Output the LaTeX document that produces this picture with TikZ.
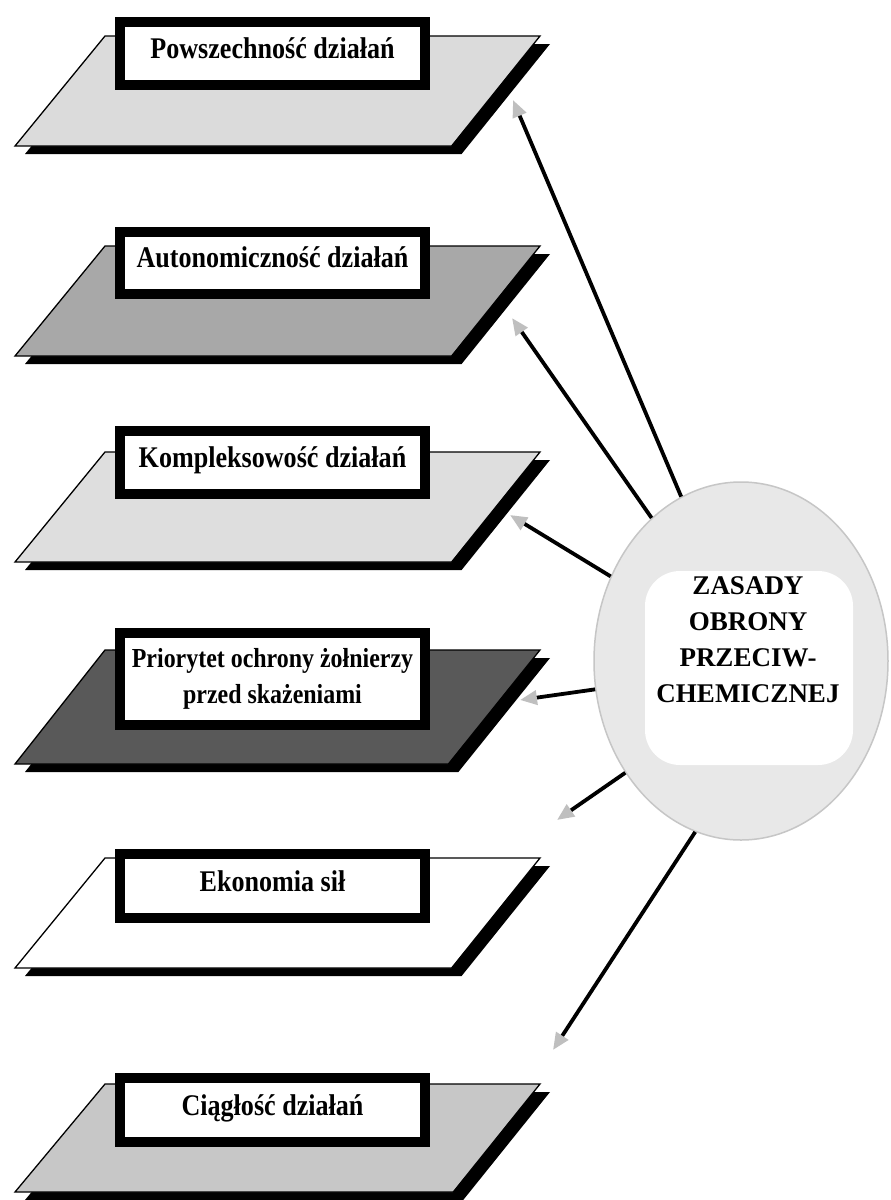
\documentclass[tikz,border=0pt]{standalone}
\usepackage{fontspec}
\setmainfont{Liberation Serif}
\newfontfamily\boxfont[FakeStretch=0.87]{Liberation Serif}
\usetikzlibrary{shapes.geometric,arrows.meta,calc}
\tikzset{
  platefill/.style={draw=black, line width=1.3pt},
  lbl/.style={draw=black, line width=10pt, fill=white, inner sep=0pt, anchor=north west,
    font=\boxfont\bfseries\fontsize{30}{34}\selectfont, minimum width=305pt},
  arr/.style={line width=3.8pt, -{Triangle[length=17pt,width=14pt,color=gray!50]}},
}
\newcommand\plate[3]{% top y, height, fill
  \fill[black] (115,{#1+8}) -- (550,{#1+8}) -- ({550-90*(#2)/112},{#1+#2+8}) -- ({25},{#1+#2+8}) -- cycle;
  \filldraw[platefill, fill=#3] (105,#1) -- (540,#1) -- ({540-90*(#2)/112},{#1+#2}) -- (15,{#1+#2}) -- cycle;
}
\begin{document}
\begin{tikzpicture}[x=1pt,y=-1pt]
\useasboundingbox (0,0) rectangle (891,1200);
\fill[white] (0,0) rectangle (891,1200);
\definecolor{pl1}{gray}{0.86}
\definecolor{pl2}{gray}{0.66}
\definecolor{pl3}{gray}{0.87}
\definecolor{pl4}{gray}{0.35}
\definecolor{pl6}{gray}{0.78}
% plates
\plate{36}{110}{pl1}
\plate{246}{110}{pl2}
\plate{452}{110}{pl3}
\plate{650}{114}{pl4}
\plate{858}{110}{white}
\plate{1084}{108}{pl6}
% labels
\node[lbl, minimum height=63pt, text height=36pt, text depth=27pt] (b1) at (115,17) {Powszechność działań};
\node[lbl, minimum height=62pt, text height=35pt, text depth=27pt] (b2) at (115,227) {Autonomiczność działań};
\node[lbl, minimum height=63pt, text height=36pt, text depth=27pt] (b3) at (115,426) {Kompleksowość działań};
\node[lbl, minimum height=92pt, align=center, font=\boxfont\bfseries\fontsize{27.5}{36}\selectfont] (b4) at (115,628) {Priorytet ochrony żołnierzy\\przed skażeniami};
\node[lbl, minimum height=64pt, text height=37pt, text depth=27pt] (b5) at (115,849) {Ekonomia sił};
\node[lbl, minimum height=64pt, text height=37pt, text depth=27pt] (b6) at (115,1073) {Ciągłość działań};
% central ellipse
\node[ellipse, draw=gray!45, line width=1.5pt, fill=gray!18, minimum width=294pt, minimum height=358pt] (c) at (741,661) {};
\node[fill=white, rounded corners=35pt, minimum width=208pt, minimum height=194pt] (w) at (749,668) {};
\node[align=center, font=\bfseries\fontsize{27}{36}\selectfont] (t) at (748,640) {ZASADY\\OBRONY\\PRZECIW-\\CHEMICZNEJ};
% arrow ends
\coordinate (h1) at (513,100);
\coordinate (h2) at (512,318);
\coordinate (h3) at (510,515);
\coordinate (h4) at (520,700);
\coordinate (h5) at (557,820);
\coordinate (h6) at (553,1050);
\draw[arr] (c.110) -- (h1);
\draw[arr] (c.122) -- (h2);
\draw[arr] (c.147) -- (h3);
\draw[arr] (c.191) -- (h4);
\draw[arr] (c.224) -- (h5);
\draw[arr] (c.255) -- (h6);
\end{tikzpicture}
\end{document}
